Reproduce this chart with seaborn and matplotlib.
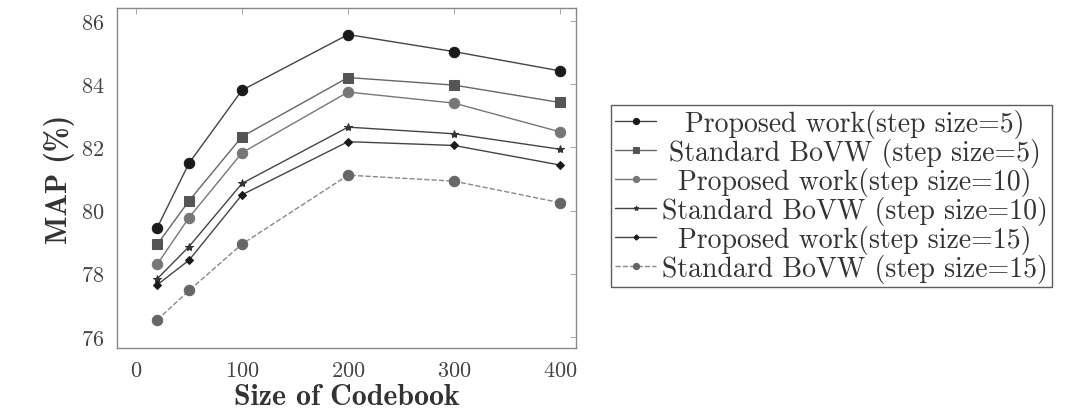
import pandas as pd
import seaborn as sns
import matplotlib.pyplot as plt
from matplotlib.offsetbox import VPacker, DrawingArea

# codebook sizes (x) and MAP (%) per method
codebook = [20, 50, 100, 200, 300, 400]
proposed_5 = [79.46, 81.50, 83.81, 85.57, 85.03, 84.42]
standard_5 = [78.93, 80.31, 82.34, 84.21, 83.97, 83.42]
proposed_10 = [78.30, 79.78, 81.83, 83.75, 83.40, 82.49]
standard_10 = [77.84, 78.86, 80.86, 82.64, 82.43, 81.94]
proposed_15 = [77.65, 78.43, 80.50, 82.18, 82.06, 81.44]
standard_15 = [76.54, 77.47, 78.94, 81.12, 80.93, 80.25]

labels = ['Proposed work(step size=5)', 'Standard BoVW (step size=5)',
          'Proposed work(step size=10)', 'Standard BoVW (step size=10)',
          'Proposed work(step size=15)', 'Standard BoVW (step size=15)']
series = [proposed_5, standard_5, proposed_10, standard_10, proposed_15, standard_15]

sns.set_theme(style='white')
plt.rcParams['font.family'] = ['cmr10', 'DejaVu Serif']
plt.rcParams['axes.formatter.use_mathtext'] = True

# marker, size, colour, line colour, linestyle
styles = [
    ('o', 7.5, '#1a1a1a', '#444444', '-'),
    ('s', 7.5, '#555555', '#666666', '-'),
    ('o', 7.5, '#777777', '#777777', '-'),
    ('*', 6, '#333333', '#444444', '-'),
    ('D', 4.5, '#1a1a1a', '#444444', '-'),
    ('o', 7.5, '#666666', '#888888', '--'),
]

fig = plt.figure(figsize=(10.77, 4.10), dpi=100)
ax = fig.add_axes([0.1086, 0.1488, 0.4262, 0.8292])

for lab, vals, (m, ms, mc, lc, ls) in zip(labels, series, styles):
    df = pd.DataFrame({'size': codebook, 'map': vals})
    sns.lineplot(data=df, x='size', y='map', ax=ax, label=lab, color=lc,
                 linestyle=ls, linewidth=1.0, marker=m, markersize=ms,
                 markerfacecolor=mc, markeredgecolor=mc)

ax.set_xlim(-18, 415)
ax.set_ylim(75.65, 86.41)
ax.set_xticks([0, 100, 200, 300, 400])
ax.set_yticks([76, 78, 80, 82, 84, 86])
ax.tick_params(direction='in', top=True, right=True, length=4, width=0.6,
               color='#999999', labelsize=16, labelcolor='#444444', pad=9)
for sp in ax.spines.values():
    sp.set_color('#888888')
    sp.set_linewidth(1.0)

ax.set_xlabel('Size of Codebook', fontfamily='cmb10', fontsize=21.5, color='#333333', labelpad=2)
ax.set_ylabel('MAP (%)', fontfamily='cmb10', fontsize=21.5, color='#333333', labelpad=4)

leg = ax.legend(loc='center left', bbox_to_anchor=(0.567, 0.5195),
                bbox_transform=fig.transFigure, fontsize=20, frameon=True,
                fancybox=False, edgecolor='#333333', handlelength=1.5,
                handletextpad=0.2, labelspacing=0.0, borderpad=0.15,
                borderaxespad=0, markerscale=0.6)
leg.get_frame().set_linewidth(1.0)
for t in leg.get_texts():
    t.set_color('#333333')

# centre the legend texts like pgfplots does
renderer = fig.canvas.get_renderer()
widths = [t.get_window_extent(renderer).width for t in leg.get_texts()]
wmax = max(widths) * 72.0 / fig.dpi
for col in leg._legend_handle_box.get_children():
    for row in col.get_children():
        kids = row.get_children()
        spacer = DrawingArea(wmax, 0, 0, 0)
        kids[1] = VPacker(pad=0, sep=0, align='center', children=[kids[1], spacer])

plt.savefig('out.png', dpi=100)
plt.close()
